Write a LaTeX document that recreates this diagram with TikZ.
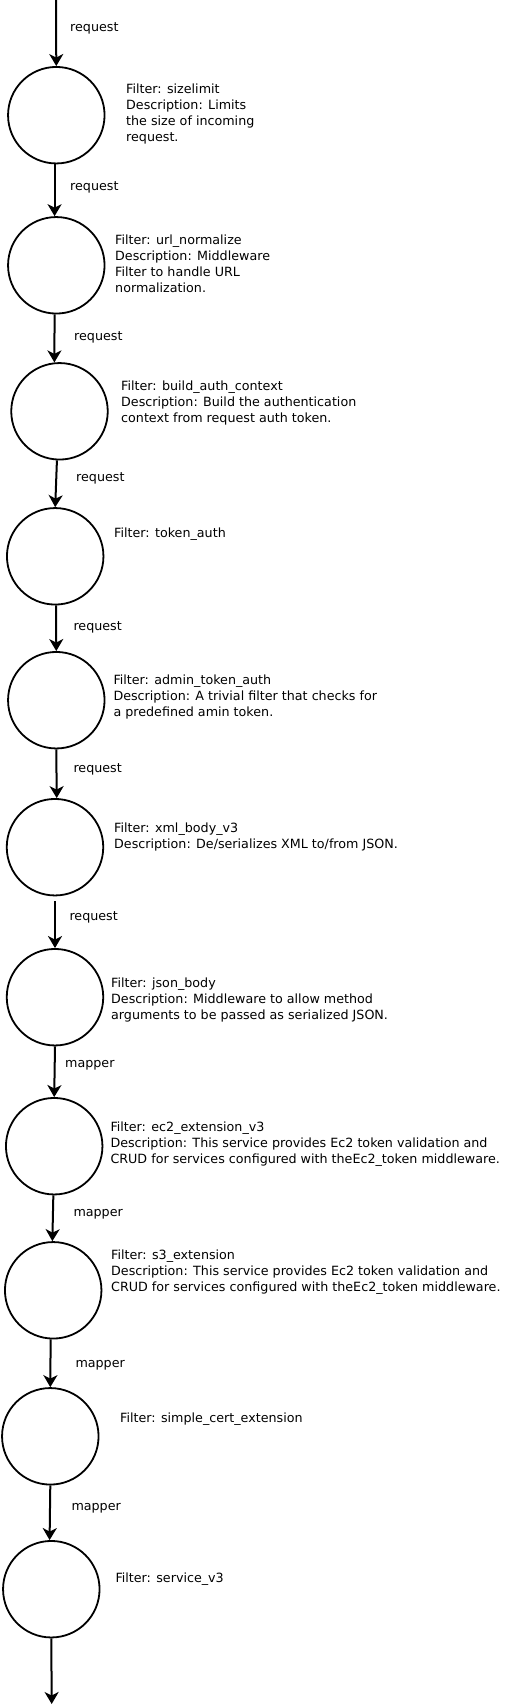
\documentclass[tikz,border=0pt]{standalone}
\usepackage{fontspec}
\setmainfont{DejaVu Sans}
\usetikzlibrary{arrows.meta}
\begin{document}
\begin{tikzpicture}[x=1pt,y=-1pt,
  filt/.style={circle,draw,line width=1.8pt,minimum size=96.5pt,inner sep=0pt},
  desc/.style={anchor=north west,inner sep=0pt,align=left,font=\fontsize{12.7}{16}\selectfont},
  elab/.style={anchor=base west,inner sep=0pt,font=\fontsize{12.7}{16}\selectfont},
  flow/.style={line width=2pt,-{Stealth[length=12pt,width=14pt,inset=3.5pt]}}]
\useasboundingbox (0,0) rectangle (505,1708);

% filter circles
\node[filt] (c1) at (56.3,115.2) {};
\node[filt] (c2) at (56.3,265.3) {};
\node[filt] (c3) at (59.5,411.3) {};
\node[filt] (c4) at (55.2,556.3) {};
\node[filt] (c5) at (56.3,700.2) {};
\node[filt] (c6) at (55,847.2) {};
\node[filt] (c7) at (55,997.2) {};
\node[filt] (c8) at (54.2,1146.2) {};
\node[filt] (c9) at (53.2,1290.3) {};
\node[filt] (c10) at (50.3,1436.3) {};
\node[filt] (c11) at (51.3,1589.2) {};

\coordinate (in) at (56,0);
\coordinate (out) at (51.7,1704);

% descriptions
\node[desc] (t1) at (126,83.35) {Filter: sizelimit\\Description: Limits\\the size of incoming\\request.};
\node[desc] (t2) at (115,234.65) {Filter: url\_normalize\\Description: Middleware\\Filter to handle URL\\normalization.};
\node[desc] (t3) at (121,380.35) {Filter: build\_auth\_context\\Description: Build the authentication\\context from request auth token.};
\node[desc] (t4) at (114,527.65) {Filter: token\_auth};
\node[desc] (t5) at (113.3,674.35) {Filter: admin\_token\_auth\\Description: A trivial filter that checks for\\a predefined amin token.};
\node[desc] (t6) at (114,823.05) {Filter: xml\_body\_v3\\Description: De/serializes XML to/from JSON.};
\node[desc] (t7) at (111,977.65) {Filter: json\_body\\Description: Middleware to allow method\\arguments to be passed as serialized JSON.};
\node[desc] (t8) at (110.3,1122.05) {Filter: ec2\_extension\_v3\\Description: This service provides Ec2 token validation and\\CRUD for services configured with theEc2\_token middleware.};
\node[desc] (t9) at (111,1249.65) {Filter: s3\_extension\\Description: This service provides Ec2 token validation and\\CRUD for services configured with theEc2\_token middleware.};
\node[desc] (t10) at (120,1413.05) {Filter: simple\_cert\_extension};
\node[desc] (t11) at (115.3,1573.05) {Filter: service\_v3};

% edge labels
\node[elab] (l1) at (70,31.5) {request};
\node[elab] (l2) at (70,190.5) {request};
\node[elab] (l3) at (74,340.5) {request};
\node[elab] (l4) at (76,481) {request};
\node[elab] (l5) at (73.3,630.5) {request};
\node[elab] (l6) at (73.3,772) {request};
\node[elab] (l7) at (69.3,920.5) {request};
\node[elab] (l8) at (65,1067) {mapper};
\node[elab] (l9) at (73.3,1216.5) {mapper};
\node[elab] (l10) at (75.3,1367.7) {mapper};
\node[elab] (l11) at (71.3,1510.5) {mapper};

% connectors (anchor angles: 90 = top of a circle, -90 = bottom)
\draw[flow] (in) -- (c1.90);
\draw[flow] (c1.-92.7) -- (c2.92.7);
\draw[flow] (c2.-92.7) -- (c3.96.5);
\draw[flow] (c3.-93) -- (c4.90.2);
\draw[flow] (c4.-89) -- (c5.90.4);
\draw[flow] (c5.-90.4) -- (c6.88.8);
\draw[flow,shorten <=5pt] (c6.-90) -- (c7.90);
\draw[flow] (c7.-90) -- (c8.90);
\draw[flow] (c8.-91.1) -- (c9.91.8);
\draw[flow] (c9.-93.8) -- (c10.90.4);
\draw[flow] (c10.-90.4) -- (c11.92.7);
\draw[flow] (c11.-90) -- (out);
\end{tikzpicture}
\end{document}
